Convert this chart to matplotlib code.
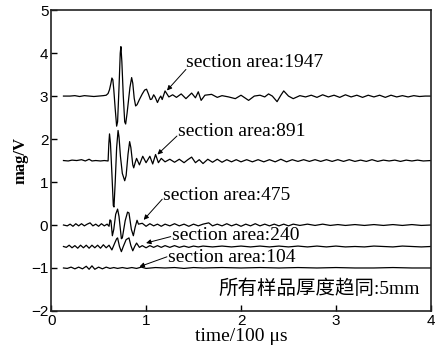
import matplotlib
matplotlib.use("Agg")
import matplotlib.pyplot as plt

# waveforms: (time / 100 us, mag / V)
trace_1947 = [
    (0.13, 3.0), (0.2, 3.0), (0.25, 3.01), (0.3, 2.99), (0.35, 3.01), (0.4, 3.0),
    (0.45, 2.99), (0.5, 3.0), (0.55, 3.01), (0.58, 3.02), (0.6, 3.06), (0.615, 3.15),
    (0.63, 3.3), (0.64, 3.42), (0.65, 3.38), (0.66, 3.15), (0.675, 2.7), (0.69, 2.3),
    (0.7, 2.4), (0.715, 3.2), (0.728, 4.0), (0.735, 4.15), (0.745, 3.8), (0.76, 3.0),
    (0.775, 2.4), (0.785, 2.35), (0.8, 2.6), (0.83, 3.2), (0.848, 3.43), (0.86, 3.3),
    (0.875, 2.95), (0.89, 2.77), (0.905, 2.8), (0.93, 2.92), (0.96, 3.05), (0.985, 3.14),
    (1.005, 3.16), (1.025, 3.05), (1.045, 2.92), (1.06, 2.93), (1.08, 3.03), (1.095, 2.98),
    (1.12, 2.85), (1.14, 2.95), (1.155, 3.0), (1.17, 2.92), (1.2, 3.12), (1.24, 2.98),
    (1.28, 3.03), (1.32, 2.97), (1.37, 3.05), (1.42, 2.94), (1.48, 3.07), (1.52, 2.96),
    (1.55, 3.1), (1.58, 2.9), (1.62, 3.02), (1.69, 3.04), (1.75, 2.97), (1.8, 3.01),
    (1.87, 2.98), (1.94, 2.94), (2.0, 3.02), (2.08, 2.9), (2.14, 3.0), (2.2, 3.02),
    (2.25, 2.98), (2.29, 3.05), (2.33, 3.0), (2.38, 2.87), (2.42, 3.02), (2.45, 3.12),
    (2.5, 3.0), (2.55, 2.94), (2.62, 3.01), (2.68, 2.98), (2.74, 3.02), (2.8, 2.97),
    (2.86, 3.03), (2.92, 2.98), (2.98, 3.02), (3.04, 2.97), (3.1, 3.03), (3.16, 2.98),
    (3.22, 3.02), (3.28, 2.97), (3.34, 3.02), (3.4, 2.98), (3.46, 3.02), (3.52, 2.97),
    (3.58, 3.02), (3.64, 2.98), (3.7, 3.01), (3.76, 2.98), (3.82, 3.01), (3.88, 2.99),
    (3.94, 3.0), (4.0, 3.0),
]
trace_891 = [
    (0.13, 1.5), (0.18, 1.49), (0.22, 1.51), (0.27, 1.5), (0.32, 1.52), (0.36, 1.49),
    (0.4, 1.53), (0.43, 1.49), (0.47, 1.5), (0.52, 1.49), (0.56, 1.5), (0.6, 1.49),
    (0.608, 1.9), (0.615, 2.12), (0.625, 1.9), (0.64, 1.2), (0.655, 0.45), (0.662, 0.42),
    (0.675, 1.0), (0.69, 1.8), (0.705, 2.2), (0.715, 2.05), (0.73, 1.6), (0.75, 1.2),
    (0.775, 1.03), (0.79, 1.15), (0.81, 1.65), (0.827, 1.94), (0.84, 1.8), (0.86, 1.4),
    (0.87, 1.33), (0.885, 1.45), (0.9, 1.55), (0.93, 1.4), (0.965, 1.6), (1.0, 1.45),
    (1.04, 1.6), (1.07, 1.42), (1.1, 1.64), (1.13, 1.45), (1.16, 1.55), (1.2, 1.47),
    (1.25, 1.53), (1.3, 1.46), (1.35, 1.53), (1.4, 1.45), (1.44, 1.52), (1.48, 1.58),
    (1.52, 1.45), (1.56, 1.52), (1.6, 1.43), (1.65, 1.53), (1.7, 1.46), (1.75, 1.53),
    (1.8, 1.46), (1.85, 1.52), (1.9, 1.47), (1.95, 1.52), (2.0, 1.47), (2.06, 1.52),
    (2.12, 1.47), (2.18, 1.52), (2.24, 1.47), (2.3, 1.52), (2.36, 1.47), (2.42, 1.53),
    (2.48, 1.47), (2.54, 1.52), (2.6, 1.48), (2.66, 1.52), (2.72, 1.48), (2.78, 1.52),
    (2.84, 1.48), (2.9, 1.52), (2.96, 1.48), (3.02, 1.52), (3.08, 1.48), (3.14, 1.52),
    (3.2, 1.48), (3.26, 1.51), (3.32, 1.48), (3.38, 1.52), (3.44, 1.48), (3.5, 1.51),
    (3.56, 1.49), (3.62, 1.51), (3.68, 1.48), (3.74, 1.51), (3.8, 1.49), (3.86, 1.51),
    (3.92, 1.49), (4.0, 1.5),
]
trace_475 = [
    (0.13, 0.0), (0.17, -0.02), (0.2, 0.02), (0.23, -0.03), (0.26, 0.03), (0.29, -0.02),
    (0.32, 0.03), (0.35, -0.02), (0.38, 0.02), (0.41, 0.05), (0.44, -0.02), (0.47, 0.02),
    (0.5, -0.03), (0.53, 0.03), (0.56, -0.02), (0.59, 0.02), (0.61, -0.03), (0.62, 0.12),
    (0.63, 0.1), (0.645, -0.25), (0.66, -0.1), (0.68, 0.25), (0.7, 0.37), (0.715, 0.2),
    (0.74, -0.32), (0.75, -0.3), (0.78, 0.1), (0.805, 0.3), (0.82, 0.28), (0.845, -0.1),
    (0.866, -0.25), (0.885, -0.05), (0.905, 0.11), (0.92, 0.02), (0.96, 0.04), (1.0, -0.03),
    (1.04, 0.03), (1.08, -0.02), (1.12, 0.02), (1.16, -0.03), (1.2, 0.02), (1.25, -0.02),
    (1.3, 0.03), (1.35, -0.02), (1.4, 0.02), (1.45, -0.03), (1.5, 0.02), (1.55, -0.02),
    (1.6, 0.02), (1.66, 0.05), (1.7, -0.02), (1.75, 0.02), (1.8, -0.02), (1.85, 0.03),
    (1.9, -0.02), (1.95, 0.02), (2.0, -0.03), (2.05, 0.02), (2.1, -0.02), (2.15, 0.03),
    (2.2, -0.02), (2.25, 0.02), (2.3, -0.02), (2.35, 0.02), (2.4, -0.02), (2.45, 0.02),
    (2.5, -0.02), (2.55, 0.02), (2.62, -0.01), (2.7, 0.02), (2.78, -0.01), (2.86, 0.02),
    (2.94, -0.01), (3.02, 0.01), (3.1, -0.01), (3.2, 0.01), (3.3, -0.01), (3.4, 0.01),
    (3.5, -0.01), (3.6, 0.01), (3.7, -0.01), (3.8, 0.01), (3.9, -0.01), (4.0, 0.0),
]
trace_240 = [
    (0.13, -0.5), (0.16, -0.52), (0.19, -0.47), (0.22, -0.53), (0.25, -0.48), (0.28, -0.54),
    (0.31, -0.47), (0.34, -0.53), (0.37, -0.47), (0.4, -0.54), (0.43, -0.47), (0.46, -0.53),
    (0.49, -0.47), (0.52, -0.54), (0.55, -0.46), (0.58, -0.53), (0.61, -0.47), (0.64, -0.58),
    (0.67, -0.42), (0.69, -0.32), (0.7, -0.3), (0.72, -0.5), (0.74, -0.62), (0.76, -0.5),
    (0.79, -0.34), (0.82, -0.3), (0.84, -0.48), (0.86, -0.6), (0.88, -0.5), (0.9, -0.42),
    (0.93, -0.52), (0.96, -0.48), (1.0, -0.53), (1.04, -0.48), (1.08, -0.52), (1.12, -0.48),
    (1.16, -0.52), (1.2, -0.48), (1.25, -0.52), (1.3, -0.48), (1.35, -0.52), (1.4, -0.49),
    (1.45, -0.52), (1.5, -0.49), (1.55, -0.51), (1.6, -0.49), (1.7, -0.51), (1.8, -0.49),
    (1.9, -0.51), (2.0, -0.49), (2.1, -0.51), (2.2, -0.49), (2.3, -0.51), (2.4, -0.49),
    (2.5, -0.51), (2.6, -0.49), (2.7, -0.51), (2.8, -0.49), (2.9, -0.51), (3.0, -0.49),
    (3.1, -0.51), (3.2, -0.5), (3.3, -0.51), (3.4, -0.49), (3.5, -0.5), (3.6, -0.51),
    (3.7, -0.49), (3.8, -0.5), (3.9, -0.51), (4.0, -0.5),
]
trace_104 = [
    (0.13, -1.0), (0.17, -1.01), (0.21, -0.98), (0.25, -1.02), (0.29, -0.98), (0.33, -1.02),
    (0.37, -0.96), (0.4, -1.03), (0.43, -0.95), (0.46, -1.03), (0.5, -0.98), (0.54, -1.02),
    (0.58, -0.98), (0.62, -1.01), (0.66, -0.99), (0.7, -1.01), (0.75, -0.99), (0.8, -1.01),
    (0.85, -0.99), (0.9, -1.01), (0.95, -0.98), (1.0, -1.01), (1.1, -0.99), (1.2, -1.0),
    (1.3, -0.99), (1.4, -1.01), (1.5, -0.99), (1.6, -1.0), (1.8, -0.99), (2.0, -1.0),
    (2.2, -0.99), (2.4, -1.0), (2.6, -0.99), (2.8, -1.0), (3.0, -0.99), (3.2, -1.0),
    (3.4, -1.0), (3.6, -0.99), (3.8, -1.0), (4.0, -1.0),
]

traces = [trace_1947, trace_891, trace_475, trace_240, trace_104]
labels = ["section area:1947", "section area:891", "section area:475",
          "section area:240", "section area:104"]
# label position (left, middle), arrow tail, arrow tip
label_pos = [(1.42, 3.77), (1.335, 2.18), (1.18, 0.69), (1.27, -0.25), (1.23, -0.76)]
arrow_tail = [(1.42, 3.62), (1.325, 2.07), (1.17, 0.6), (1.26, -0.27), (1.22, -0.74)]
arrow_tip = [(1.22, 3.13), (1.12, 1.64), (0.975, 0.12), (1.0, -0.42), (0.93, -0.97)]
note = "所有样品厚度趋同:5mm"

fig = plt.figure(figsize=(4.37, 3.49), dpi=100)
ax = fig.add_axes([0.117, 0.109, 0.869, 0.862])

for tr in traces:
    t = [p[0] for p in tr]
    v = [p[1] for p in tr]
    ax.plot(t, v, color="black", lw=0.9)

serif = ["Liberation Serif", "Noto Sans CJK SC"]
for lab, pos, tail, tip in zip(labels, label_pos, arrow_tail, arrow_tip):
    ax.text(pos[0], pos[1], lab, family=serif, fontsize=14, ha="left", va="center")
    ax.annotate("", xy=tip, xytext=tail,
                arrowprops=dict(arrowstyle="-|>", color="black", lw=0.7,
                                mutation_scale=7, shrinkA=0, shrinkB=0))

ax.text(3.88, -1.48, note, family=serif, fontsize=14, ha="right", va="center")

ax.set_xlim(0, 4)
ax.set_ylim(-2, 5)
ax.set_xticks([0, 1, 2, 3, 4])
ax.set_yticks([-2, -1, 0, 1, 2, 3, 4, 5])
ax.tick_params(direction="in", length=4, width=1, labelsize=11, pad=2)
for lab in ax.get_xticklabels() + ax.get_yticklabels():
    lab.set_family("Liberation Sans")
for s in ax.spines.values():
    s.set_linewidth(1.2)
    s.set_color("#222222")

ax.set_xlabel("time/100 μs", family="Liberation Serif", fontsize=14, labelpad=0)
ax.set_ylabel("mag/V", family="Liberation Serif", fontsize=12, fontweight="bold", labelpad=2)

fig.savefig("out.png", dpi=100)
